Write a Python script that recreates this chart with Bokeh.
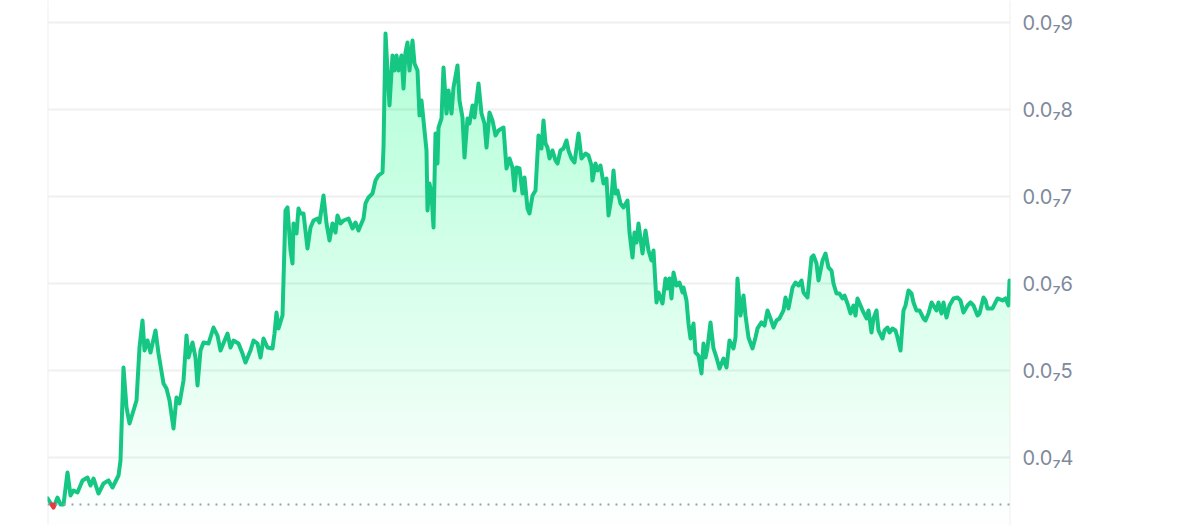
import numpy as np
from bokeh.plotting import figure
from bokeh.models import FixedTicker, Span
from bokeh.embed import file_html
from bokeh.resources import INLINE

# time axis: hours since start of the period
hours = [0, 6, 10, 13, 16, 20, 23, 26, 30, 35, 40, 43, 46, 51, 56, 61, 65, 71, 73, 76,
         79, 82, 86, 89, 92, 95, 97, 100, 103, 108, 111, 116, 119, 122, 126, 129, 132, 136, 139, 141,
         145, 148, 150, 153, 156, 161, 166, 170, 173, 180, 183, 186, 191, 195, 198, 203, 206, 210, 213, 216,
         220, 225, 227, 229, 231, 235, 236, 238, 240, 243, 245, 246, 249, 251, 253, 256, 260, 263, 266, 270,
         272, 276, 279, 282, 285, 288, 290, 293, 296, 301, 305, 308, 311, 316, 318, 321, 325, 328, 331, 335,
         336, 338, 340, 342, 345, 347, 349, 351, 354, 356, 358, 360, 362, 365, 367, 370, 372, 374, 376, 379,
         380, 382, 384, 386, 388, 390, 391, 394, 396, 399, 401, 404, 406, 410, 412, 415, 417, 420, 422, 425,
         427, 431, 434, 437, 439, 442, 445, 448, 451, 456, 459, 462, 465, 467, 469, 472, 475, 477, 480, 482,
         485, 488, 491, 494, 496, 498, 500, 502, 505, 508, 510, 513, 516, 519, 521, 524, 527, 531, 534, 538,
         541, 544, 545, 548, 550, 553, 556, 559, 561, 564, 566, 568, 570, 573, 576, 580, 582, 585, 587, 589,
         591, 595, 598, 601, 604, 606, 609, 611, 615, 618, 620, 622, 624, 626, 629, 632, 635, 636, 639, 641,
         643, 646, 648, 651, 654, 656, 658, 660, 663, 666, 669, 672, 676, 679, 682, 686, 688, 690, 693, 696,
         698, 701, 705, 708, 710, 714, 717, 720, 723, 726, 729, 732, 736, 738, 741, 745, 748, 751, 754, 756,
         760, 764, 766, 769, 771, 775, 778, 781, 784, 786, 789, 792, 795, 797, 800, 803, 806, 808, 810, 813,
         816, 819, 821, 824, 826, 829, 831, 835, 837, 840, 842, 845, 848, 850, 853, 856, 858, 861, 864, 866,
         869, 872, 876, 878, 881, 884, 886, 889, 891, 894, 896, 899, 902, 906, 910, 913, 916, 920, 923, 926,
         930, 932, 936, 938, 940, 945, 950, 955, 958, 961, 962]

# price in units of 1e-8 USD (0.0₇5 = 0.00000005)
price = [3.529, 3.425, 3.540, 3.460, 3.460, 3.828, 3.563, 3.621, 3.598, 3.736, 3.770, 3.678, 3.759, 3.586, 3.701, 3.736, 3.655, 3.793, 3.966, 5.034,
         4.575, 4.391, 4.540, 4.655, 5.264, 5.575, 5.230, 5.345, 5.207, 5.460, 5.195, 4.851, 4.793, 4.655, 4.333, 4.690, 4.621, 4.885, 5.402, 5.149,
         5.322, 5.149, 4.828, 5.230, 5.322, 5.310, 5.494, 5.402, 5.230, 5.425, 5.264, 5.345, 5.310, 5.195, 5.092, 5.230, 5.345, 5.310, 5.149, 5.368,
         5.264, 5.253, 5.425, 5.667, 5.483, 5.632, 6.034, 6.839, 6.874, 6.379, 6.230, 6.690, 6.575, 6.862, 6.805, 6.805, 6.402, 6.644, 6.724, 6.747,
         6.701, 7.011, 6.690, 6.494, 6.690, 6.586, 6.782, 6.690, 6.724, 6.747, 6.632, 6.701, 6.609, 6.747, 6.920, 6.989, 7.034, 7.184, 7.241, 7.276,
         7.563, 8.874, 8.448, 8.046, 8.621, 8.448, 8.621, 8.448, 8.621, 8.241, 8.655, 8.770, 8.448, 8.793, 8.529, 8.448, 7.931, 8.103, 7.874, 7.529,
         6.839, 7.149, 7.034, 6.644, 7.724, 7.379, 7.793, 7.897, 8.483, 7.954, 8.218, 7.954, 8.253, 8.506, 8.103, 7.908, 7.448, 7.897, 7.839, 8.046,
         7.908, 8.299, 7.954, 7.839, 7.563, 7.966, 7.874, 7.701, 7.759, 7.793, 7.322, 7.437, 7.333, 7.069, 7.333, 7.322, 7.034, 7.218, 6.862, 6.805,
         7.011, 7.069, 7.701, 7.552, 7.874, 7.609, 7.563, 7.437, 7.529, 7.414, 7.379, 7.529, 7.552, 7.644, 7.529, 7.437, 7.391, 7.724, 7.437, 7.494,
         7.471, 7.356, 7.184, 7.379, 7.299, 7.356, 7.149, 7.207, 6.782, 6.989, 7.299, 7.034, 7.069, 6.920, 6.874, 6.954, 6.586, 6.299, 6.586, 6.471,
         6.690, 6.345, 6.609, 6.379, 6.264, 6.379, 5.782, 5.897, 5.770, 6.057, 5.943, 6.057, 5.828, 6.126, 5.977, 6.011, 5.897, 5.954, 5.805, 5.540,
         5.368, 5.540, 5.207, 5.172, 4.966, 5.310, 5.149, 5.264, 5.552, 5.253, 5.149, 5.023, 5.138, 5.034, 5.345, 5.253, 5.379, 6.057, 5.632, 5.862,
         5.632, 5.379, 5.253, 5.379, 5.483, 5.552, 5.517, 5.690, 5.598, 5.494, 5.575, 5.598, 5.690, 5.839, 5.713, 5.954, 6.011, 5.977, 6.034, 5.897,
         5.839, 6.299, 6.322, 6.230, 6.034, 6.264, 6.345, 6.184, 6.149, 6.000, 5.885, 5.885, 5.828, 5.862, 5.770, 5.655, 5.747, 5.632, 5.828, 5.747,
         5.667, 5.598, 5.690, 5.437, 5.598, 5.690, 5.460, 5.368, 5.460, 5.494, 5.437, 5.483, 5.460, 5.379, 5.230, 5.690, 5.747, 5.920, 5.885, 5.782,
         5.690, 5.690, 5.598, 5.575, 5.655, 5.782, 5.747, 5.690, 5.782, 5.655, 5.782, 5.609, 5.747, 5.828, 5.839, 5.805, 5.667, 5.747, 5.782, 5.747,
         5.632, 5.655, 5.839, 5.805, 5.713, 5.713, 5.828, 5.805, 5.828, 5.747, 6.034]

start_price = 3.46
tick_values = [4, 5, 6, 7, 8, 9]
tick_labels = ["0.0₇4", "0.0₇5", "0.0₇6", "0.0₇7", "0.0₇8", "0.0₇9"]

GREEN = "#16c784"
RED = "#ea3943"
LABEL = "#808a9d"

t = np.array(hours, dtype=float)
v = np.array(price, dtype=float)

PX = 87.0  # pixels per price unit
H = 525
y_hi = 9 + 22 / PX
y_lo = y_hi - H / PX
x_lo, x_hi = 0, 963

p = figure(width=1192, height=H, x_range=(x_lo, x_hi), y_range=(y_lo, y_hi),
           x_axis_location=None, y_axis_location="right",
           output_backend="svg", toolbar_location=None,
           min_border_left=47, min_border_right=182, min_border_top=0, min_border_bottom=0)
p.outline_line_color = None
p.background_fill_color = "white"
p.border_fill_color = "white"
p.xgrid.visible = False

# axis
ax = p.yaxis[0]
ax.ticker = FixedTicker(ticks=tick_values)
ax.major_label_overrides = {k: s for k, s in zip(tick_values, tick_labels)}
ax.axis_line_color = None
ax.major_tick_line_color = None
ax.minor_tick_line_color = None
ax.major_tick_out = 0
ax.major_tick_in = 0
ax.major_label_standoff = 12
ax.major_label_text_font = "Inter"
ax.major_label_text_font_size = "20px"
ax.major_label_text_color = LABEL

p.ygrid.grid_line_color = "#f0f0f0"
p.ygrid.grid_line_width = 2

for loc in (x_lo, x_hi):
    p.add_layout(Span(location=loc, dimension="height", line_color="#f0f0f0",
                      line_width=2, level="underlay"))

# gradient-like area fill: stacked translucent layers
n_layers = 40
levels = np.linspace(y_lo, v.max(), n_layers)
a = 1 - (1 - 0.24) ** (1.0 / n_layers)
for L in levels:
    p.varea(x=t, y1=np.full_like(v, L), y2=np.maximum(v, L),
            fill_color=GREEN, fill_alpha=a)

# baseline (starting price)
p.add_layout(Span(location=start_price, dimension="width", line_color="#9a9fae",
                  line_width=2, line_dash="2 6"))

# split line into above (green) / below (red) runs
runs = {"g": ([], []), "r": ([], [])}
cur = {"c": None, "x": None, "y": None}


def flush():
    if cur["c"] is not None:
        runs[cur["c"]][0].append(cur["x"])
        runs[cur["c"]][1].append(cur["y"])
    cur["c"] = None


def add(c, xa, ya, xb, yb):
    if c != cur["c"]:
        flush()
        cur["c"], cur["x"], cur["y"] = c, [xa], [ya]
    cur["x"].append(xb)
    cur["y"].append(yb)


for i in range(len(t) - 1):
    x0, y0, x1, y1 = t[i], v[i], t[i + 1], v[i + 1]
    c0 = "g" if y0 >= start_price else "r"
    c1 = "g" if y1 >= start_price else "r"
    if c0 == c1:
        add(c0, x0, y0, x1, y1)
    else:
        xc = x0 + (start_price - y0) * (x1 - x0) / (y1 - y0)
        add(c0, x0, y0, xc, start_price)
        add(c1, xc, start_price, x1, y1)
flush()

p.multi_line(runs["g"][0], runs["g"][1], line_color=GREEN, line_width=4,
             line_join="round", line_cap="round")
if runs["r"][0]:
    p.multi_line(runs["r"][0], runs["r"][1], line_color=RED, line_width=4,
                 line_join="round", line_cap="round")

open("out.html", "w").write(file_html(p, INLINE))
